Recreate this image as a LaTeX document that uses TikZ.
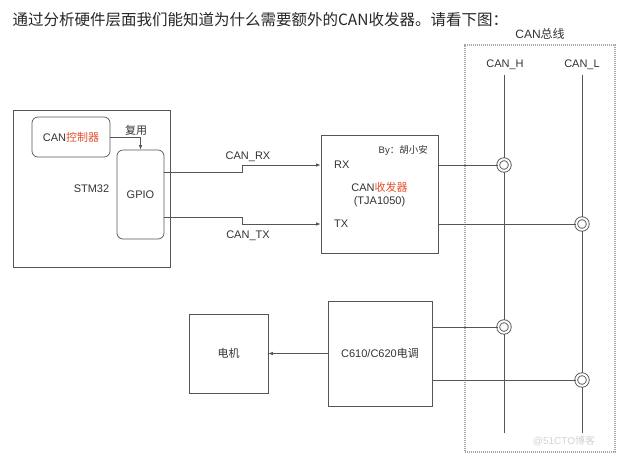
\documentclass[tikz,border=0pt]{standalone}
\usepackage{fontspec}
\setmainfont{Liberation Sans}
\newfontfamily\cjk{Noto Sans CJK SC}
\usetikzlibrary{positioning,calc,arrows.meta}
\definecolor{canred}{HTML}{E4502E}
\definecolor{linegray}{HTML}{555555}

\begin{document}
\begin{tikzpicture}[x=1pt,y=-1pt,
		every node/.style={font=\fontsize{11}{13}\selectfont, text=black!80},
		blk/.style={draw=linegray, line width=0.7pt, inner sep=0pt, align=center},
		rblk/.style={blk, rounded corners=6pt},
		sig/.style={draw=linegray, line width=0.7pt},
		tip/.style={sig, -{Latex[length=4.5pt,width=3.5pt]}},
		tap/.style={circle, draw=linegray, line width=0.9pt, double=white, double distance=2pt,
			fill=white, minimum size=11.5pt, inner sep=0pt},
		busbox/.style={draw=gray!70, line width=1.1pt, dash pattern=on 1.2pt off 0.8pt}]
		\useasboundingbox (0,0) rectangle (634,456);
		\node[anchor=west, font=\cjk\fontsize{15.5}{18}\selectfont, text=black!85] (head) at (9,20)
			{通过分析硬件层面我们能知道为什么需要额外的CAN收发器。请看下图：};
		% STM32 side
		\node[blk, minimum width=157pt, minimum height=157pt] (stm) at (91.5,189) {STM32};
		\node[rblk, minimum width=78pt, minimum height=40pt] (ctrl) at (71,137)
			{CAN{\cjk\color{canred}控制器}};
		\node[rblk, fill=white, minimum width=47pt, minimum height=89pt] (gpio) at (140.5,194.5) {GPIO};
		\node[font=\cjk\fontsize{11}{13}\selectfont] (mux) at (136,130) {复用};
		\draw[tip] (ctrl.east) -| (gpio.north);
		% transceiver
		\node[blk, minimum width=117pt, minimum height=118pt] (xcvr) at (379.5,194)
			{CAN{\cjk\color{canred}收发器}\\(TJA1050)};
		\node[anchor=north east, font=\fontsize{9.5}{11}\selectfont] (by) at ($(xcvr.north east)+(-7,7)$)
			{By{\cjk ：胡小安}};
		\coordinate (rxIn) at (xcvr.west |- 0,165);
		\coordinate (txIn) at (xcvr.west |- 0,224);
		\node[anchor=west] (rx) at ($(rxIn)+(10,0)$) {RX};
		\node[anchor=west] (tx) at ($(txIn)+(10,0)$) {TX};
		\draw[tip] (gpio.east |- 0,172) -- (242,172) -- (242,165) -- (rxIn);
		\draw[tip] (gpio.east |- 0,217) -- (242,217) -- (242,224) -- (txIn);
		\node (rxlab) at (248,157) {CAN\_RX};
		\node (txlab) at (248,236) {CAN\_TX};
		% motor and ESC
		\node[blk, minimum width=79pt, minimum height=79pt, font=\cjk\fontsize{11}{13}\selectfont] (motor) at (228.5,353.5) {电机};
		\node[blk, minimum width=104pt, minimum height=105pt] (esc) at (380,353.5) {C610/C620{\cjk 电调}};
		\draw[tip] (esc.west) -- (motor.east);
		% CAN bus
		\node[busbox, minimum width=150pt, minimum height=407pt] (bus) at (540,248.5) {};
		\node[above=1pt of bus.north, font=\fontsize{12}{14}\selectfont] (buslab) {CAN{\cjk 总线}};
		\node (hlab) at (505,65) {CAN\_H};
		\node (llab) at (582,65) {CAN\_L};
		\coordinate (hTop) at (504,75);
		\coordinate (hBot) at (504,433);
		\coordinate (lTop) at (582,75);
		\coordinate (lBot) at (582,433);
		\draw[sig] (hTop) -- (hBot);
		\draw[sig] (lTop) -- (lBot);
		\node[tap] (t1) at (hTop |- 0,165) {};
		\node[tap] (t2) at (lTop |- 0,224) {};
		\node[tap] (t3) at (hTop |- 0,327) {};
		\node[tap] (t4) at (lTop |- 0,380) {};
		\draw[sig] (xcvr.east |- t1) -- (t1);
		\draw[sig] (xcvr.east |- t2) -- (t2);
		\draw[sig] (esc.east |- t3) -- (t3);
		\draw[sig] (esc.east |- t4) -- (t4);
		\node[text=gray!35, font=\fontsize{10}{12}\selectfont] (mark) at (564,441) {@51CTO{\cjk 博客}};
	\end{tikzpicture}
\end{document}
